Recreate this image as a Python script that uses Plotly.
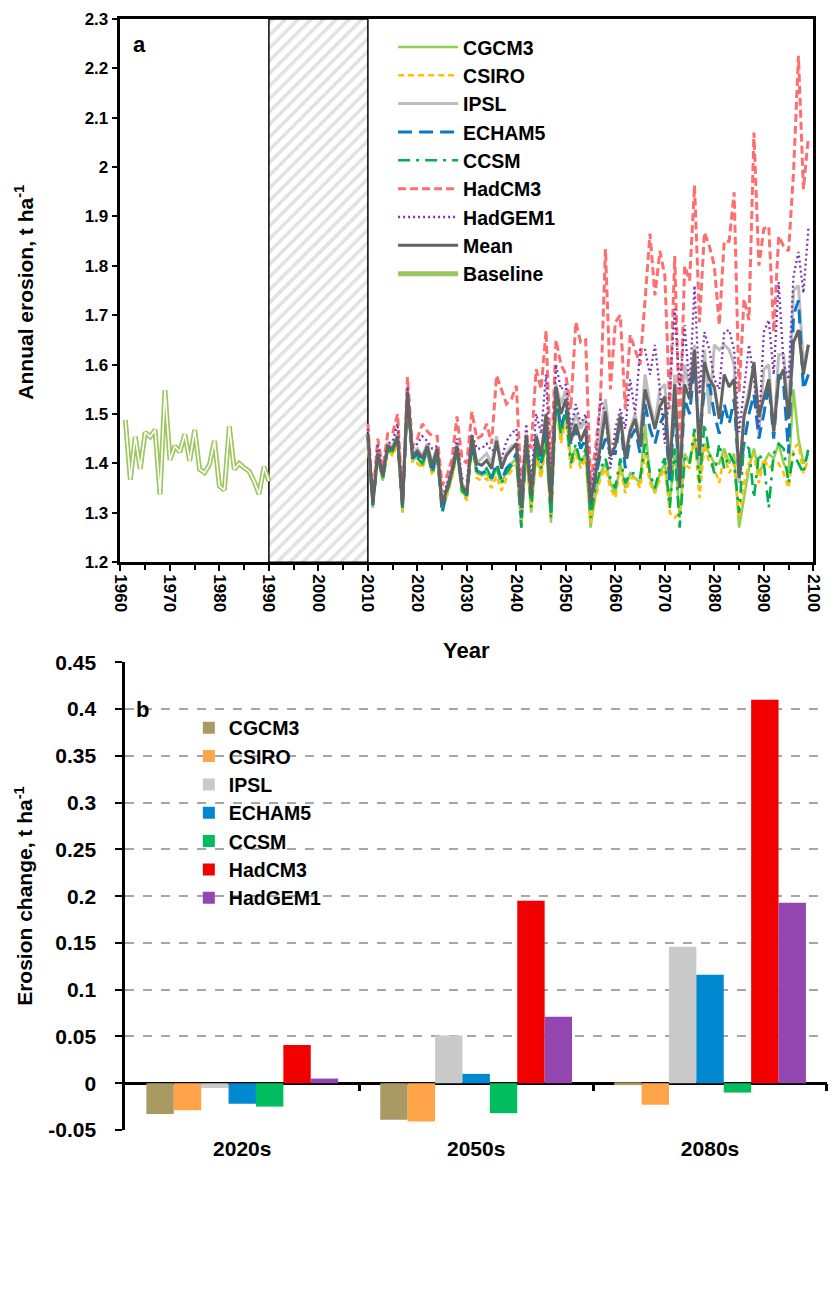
import plotly.graph_objects as go

# ---------------- data: panel a ----------------
BASELINE_YEARS = list(range(1961, 1991))
BASELINE = [1.488, 1.367, 1.454, 1.389, 1.463, 1.454, 1.468, 1.337, 1.548, 1.407,
            1.435, 1.423, 1.459, 1.405, 1.468, 1.388, 1.381, 1.398, 1.446, 1.354,
            1.346, 1.475, 1.388, 1.400, 1.391, 1.384, 1.364, 1.338, 1.393, 1.364]

FUTURE_YEARS = list(range(2010, 2100))

CGCM3 = [1.44, 1.31, 1.41, 1.365, 1.425, 1.42, 1.445, 1.30, 1.53, 1.405,
         1.415, 1.395, 1.425, 1.38, 1.42, 1.31, 1.34, 1.375, 1.425, 1.345,
         1.33, 1.44, 1.38, 1.375, 1.38, 1.365, 1.39, 1.36, 1.385, 1.40,
         1.41, 1.27, 1.43, 1.30, 1.42, 1.38, 1.45, 1.28, 1.53, 1.45,
         1.50, 1.41, 1.43, 1.40, 1.42, 1.27, 1.34, 1.38, 1.40, 1.36,
         1.34, 1.40, 1.35, 1.38, 1.37, 1.36, 1.48, 1.37, 1.34, 1.38,
         1.40, 1.32, 1.43, 1.29, 1.42, 1.40, 1.45, 1.38, 1.44, 1.42,
         1.40, 1.40, 1.43, 1.40, 1.42, 1.27, 1.33, 1.39, 1.43, 1.38,
         1.40, 1.42, 1.41, 1.44, 1.40, 1.38, 1.55, 1.45, 1.40, 1.42]

CSIRO = [1.445, 1.315, 1.415, 1.37, 1.43, 1.415, 1.44, 1.305, 1.535, 1.40,
         1.40, 1.39, 1.42, 1.375, 1.41, 1.305, 1.335, 1.37, 1.42, 1.34,
         1.325, 1.435, 1.37, 1.365, 1.37, 1.35, 1.375, 1.345, 1.37, 1.385,
         1.40, 1.28, 1.42, 1.31, 1.41, 1.37, 1.44, 1.29, 1.52, 1.44,
         1.49, 1.39, 1.42, 1.39, 1.41, 1.28, 1.33, 1.37, 1.39, 1.35,
         1.33, 1.39, 1.34, 1.37, 1.37, 1.35, 1.42, 1.36, 1.34, 1.37,
         1.39, 1.30, 1.29, 1.30, 1.40, 1.39, 1.46, 1.33, 1.44, 1.40,
         1.39, 1.36, 1.42, 1.38, 1.40, 1.29, 1.36, 1.40, 1.42, 1.36,
         1.41, 1.39, 1.40, 1.40, 1.38, 1.35, 1.43, 1.44, 1.38, 1.41]

IPSL = [1.46, 1.32, 1.425, 1.38, 1.44, 1.435, 1.46, 1.315, 1.55, 1.42,
        1.43, 1.415, 1.44, 1.40, 1.435, 1.32, 1.355, 1.39, 1.44, 1.36,
        1.345, 1.455, 1.40, 1.41, 1.42, 1.40, 1.455, 1.395, 1.42, 1.435,
        1.44, 1.31, 1.46, 1.34, 1.46, 1.42, 1.50, 1.32, 1.56, 1.52,
        1.55, 1.46, 1.50, 1.47, 1.49, 1.33, 1.40, 1.46, 1.53, 1.44,
        1.44, 1.50, 1.42, 1.47, 1.50, 1.45, 1.58, 1.52, 1.48, 1.55,
        1.56, 1.38, 1.58, 1.37, 1.60, 1.55, 1.64, 1.40, 1.63, 1.50,
        1.64, 1.63, 1.64, 1.63, 1.60, 1.36, 1.50, 1.55, 1.60, 1.46,
        1.59, 1.60, 1.46, 1.62, 1.62, 1.50, 1.75, 1.76, 1.60, 1.64]

ECHAM5 = [1.455, 1.315, 1.42, 1.37, 1.43, 1.425, 1.45, 1.31, 1.54, 1.41,
          1.42, 1.40, 1.43, 1.38, 1.425, 1.30, 1.345, 1.38, 1.43, 1.35,
          1.335, 1.44, 1.385, 1.38, 1.385, 1.37, 1.40, 1.365, 1.39, 1.40,
          1.42, 1.29, 1.44, 1.33, 1.44, 1.40, 1.47, 1.30, 1.54, 1.47,
          1.51, 1.44, 1.47, 1.43, 1.45, 1.31, 1.37, 1.42, 1.45, 1.42,
          1.42, 1.49, 1.39, 1.45, 1.47, 1.42, 1.52, 1.47, 1.44, 1.48,
          1.50, 1.36, 1.52, 1.35, 1.53, 1.50, 1.60, 1.45, 1.55, 1.56,
          1.50, 1.46, 1.52, 1.48, 1.53, 1.37, 1.44, 1.50, 1.54, 1.45,
          1.50, 1.56, 1.45, 1.58, 1.56, 1.42, 1.70, 1.73, 1.55, 1.58]

CCSM = [1.45, 1.32, 1.415, 1.37, 1.425, 1.425, 1.45, 1.31, 1.54, 1.41,
        1.41, 1.40, 1.43, 1.385, 1.42, 1.31, 1.345, 1.38, 1.43, 1.345,
        1.335, 1.445, 1.385, 1.38, 1.39, 1.37, 1.395, 1.36, 1.38, 1.395,
        1.41, 1.27, 1.44, 1.31, 1.43, 1.39, 1.45, 1.29, 1.53, 1.46,
        1.50, 1.40, 1.44, 1.40, 1.43, 1.29, 1.35, 1.39, 1.41, 1.37,
        1.35, 1.41, 1.36, 1.38, 1.38, 1.37, 1.44, 1.38, 1.35, 1.39,
        1.41, 1.31, 1.43, 1.27, 1.41, 1.40, 1.47, 1.36, 1.48, 1.42,
        1.38, 1.44, 1.39, 1.42, 1.40, 1.30, 1.44, 1.43, 1.33, 1.42,
        1.40, 1.31, 1.42, 1.44, 1.43, 1.36, 1.42, 1.40, 1.38, 1.43]

HADCM3 = [1.48, 1.33, 1.45, 1.39, 1.46, 1.46, 1.50, 1.32, 1.575, 1.435,
          1.45, 1.48, 1.465, 1.455, 1.455, 1.355, 1.375, 1.41, 1.495, 1.41,
          1.40, 1.505, 1.45, 1.456, 1.48, 1.44, 1.578, 1.55, 1.52, 1.53,
          1.557, 1.348, 1.456, 1.43, 1.591, 1.55, 1.669, 1.38, 1.65, 1.60,
          1.58, 1.51, 1.686, 1.645, 1.65, 1.36, 1.43, 1.53, 1.834, 1.55,
          1.686, 1.70, 1.51, 1.66, 1.63, 1.60, 1.73, 1.865, 1.74, 1.83,
          1.78, 1.51, 1.82, 1.45, 1.80, 1.77, 1.963, 1.686, 1.868, 1.84,
          1.80, 1.68, 1.85, 1.85, 1.949, 1.544, 1.733, 1.69, 2.07, 1.80,
          1.875, 1.88, 1.666, 1.86, 1.84, 1.83, 1.989, 2.225, 1.955, 2.06]

HADGEM1 = [1.47, 1.33, 1.44, 1.38, 1.44, 1.445, 1.48, 1.32, 1.555, 1.43,
           1.44, 1.455, 1.445, 1.43, 1.435, 1.33, 1.36, 1.39, 1.45, 1.37,
           1.365, 1.46, 1.43, 1.43, 1.44, 1.425, 1.43, 1.41, 1.445, 1.46,
           1.47, 1.33, 1.48, 1.36, 1.50, 1.46, 1.58, 1.34, 1.60, 1.55,
           1.56, 1.47, 1.52, 1.48, 1.50, 1.34, 1.40, 1.53, 1.50, 1.39,
           1.47, 1.51, 1.47, 1.57, 1.50, 1.63, 1.63, 1.58, 1.64, 1.55,
           1.44, 1.55, 1.713, 1.55, 1.68, 1.55, 1.76, 1.54, 1.666, 1.63,
           1.57, 1.55, 1.666, 1.67, 1.63, 1.463, 1.55, 1.64, 1.57, 1.47,
           1.666, 1.69, 1.58, 1.767, 1.60, 1.57, 1.78, 1.828, 1.745, 1.875]

MEAN = [1.46, 1.32, 1.42, 1.375, 1.435, 1.43, 1.455, 1.315, 1.545, 1.415,
        1.425, 1.41, 1.435, 1.395, 1.43, 1.315, 1.35, 1.385, 1.435, 1.355,
        1.34, 1.455, 1.40, 1.396, 1.406, 1.389, 1.446, 1.389, 1.416, 1.429,
        1.44, 1.31, 1.455, 1.335, 1.455, 1.415, 1.50, 1.32, 1.555, 1.50,
        1.53, 1.445, 1.48, 1.445, 1.47, 1.32, 1.38, 1.435, 1.505, 1.415,
        1.435, 1.495, 1.41, 1.465, 1.49, 1.435, 1.55, 1.51, 1.47, 1.515,
        1.535, 1.38, 1.56, 1.355, 1.56, 1.53, 1.63, 1.415, 1.605, 1.57,
        1.555, 1.49, 1.58, 1.555, 1.57, 1.37, 1.495, 1.535, 1.605, 1.495,
        1.535, 1.57, 1.465, 1.57, 1.59, 1.49, 1.645, 1.67, 1.58, 1.64]

GAP_PERIOD = [1990, 2010]          # hatched, no-data period
Y_RANGE_A = [1.2, 2.3]
Y_TICKS_A = [1.2, 1.3, 1.4, 1.5, 1.6, 1.7, 1.8, 1.9, 2.0, 2.1, 2.2, 2.3]
Y_TICKTEXT_A = ["1.2", "1.3", "1.4", "1.5", "1.6", "1.7", "1.8", "1.9", "2", "2.1", "2.2", "2.3"]

# ---------------- data: panel b ----------------
PERIODS = ["2020s", "2050s", "2080s"]
BAR_MODELS = ["CGCM3", "CSIRO", "IPSL", "ECHAM5", "CCSM", "HadCM3", "HadGEM1"]
CHANGE_CGCM3 = [-0.033, -0.039, -0.002]
CHANGE_CSIRO = [-0.029, -0.041, -0.023]
CHANGE_IPSL = [-0.005, 0.051, 0.146]
CHANGE_ECHAM5 = [-0.022, 0.010, 0.116]
CHANGE_CCSM = [-0.025, -0.032, -0.010]
CHANGE_HADCM3 = [0.041, 0.195, 0.410]
CHANGE_HADGEM1 = [0.005, 0.071, 0.193]
Y_RANGE_B = [-0.05, 0.45]
Y_TICKS_B = [-0.05, 0, 0.05, 0.1, 0.15, 0.2, 0.25, 0.3, 0.35, 0.4, 0.45]
Y_TICKTEXT_B = ["-0.05", "0", "0.05", "0.1", "0.15", "0.2", "0.25", "0.3", "0.35", "0.4", "0.45"]

# ---------------- styling ----------------
W, H = 836, 1308
FONT = "Liberation Sans, Arial, sans-serif"

A_TOP, A_BOTTOM = 7, 560          # panel a plot area (px from top)
B_TOP, B_BOTTOM = 662, 1138       # panel b plot area (px from top)


def px_x(p):
    return p / W


def px_y(p):
    return 1 - p / H


def bfont(size):
    return dict(family=FONT, size=size, color="black", weight="bold")


fig = go.Figure()

# hatched gap period
fig.add_trace(go.Scatter(
    x=[GAP_PERIOD[0], GAP_PERIOD[1], GAP_PERIOD[1], GAP_PERIOD[0], GAP_PERIOD[0]],
    y=[Y_RANGE_A[0], Y_RANGE_A[0], Y_RANGE_A[1], Y_RANGE_A[1], Y_RANGE_A[0]],
    fill="toself", mode="lines",
    line=dict(color="black", width=1.5),
    fillcolor="white",
    fillpattern=dict(shape="/", fgcolor="#c4c4c4", bgcolor="white", size=9, solidity=0.4),
    showlegend=False, hoverinfo="skip", xaxis="x", yaxis="y"))

line_specs = [
    ("CGCM3", CGCM3, "#92D050", "solid", 2.5),
    ("CSIRO", CSIRO, "#FFC000", "6px,4px", 2.6),
    ("IPSL", IPSL, "#BDBDBD", "solid", 3),
    ("ECHAM5", ECHAM5, "#0A78C2", "14px,7px", 3),
    ("CCSM", CCSM, "#00B050", "12px,6px,3px,6px", 2.6),
    ("HadCM3", HADCM3, "#FF6E6E", "8px,4px", 3),
    ("HadGEM1", HADGEM1, "#7B35B0", "2px,3px", 2.3),
    ("Mean", MEAN, "#636363", "solid", 3),
]
for name, vals, color, dash, width in line_specs:
    fig.add_trace(go.Scatter(
        x=FUTURE_YEARS, y=vals, mode="lines", name=name,
        line=dict(color=color, dash=dash, width=width),
        legend="legend", legendgroup=name, xaxis="x", yaxis="y"))

# baseline as a double line
fig.add_trace(go.Scatter(
    x=BASELINE_YEARS, y=BASELINE, mode="lines", name="Baseline",
    line=dict(color="#9DC65E", width=5), legend="legend", legendgroup="Baseline",
    xaxis="x", yaxis="y"))
fig.add_trace(go.Scatter(
    x=BASELINE_YEARS, y=BASELINE, mode="lines", name="Baseline",
    line=dict(color="white", width=1.6), showlegend=False, legendgroup="Baseline",
    xaxis="x", yaxis="y"))

# bars
bar_values = [CHANGE_CGCM3, CHANGE_CSIRO, CHANGE_IPSL, CHANGE_ECHAM5,
              CHANGE_CCSM, CHANGE_HADCM3, CHANGE_HADGEM1]
bar_colors = ["#A89A62", "#FFA449", "#CACACA", "#0088D1", "#00BE5E", "#F20000", "#9346B0"]
for name, vals, color in zip(BAR_MODELS, bar_values, bar_colors):
    fig.add_trace(go.Bar(
        x=PERIODS, y=vals, name=name, marker=dict(color=color, line=dict(width=0)),
        legend="legend2", legendgroup="b_" + name, xaxis="x2", yaxis="y2"))

zero_frac = (0 - Y_RANGE_B[0]) / (Y_RANGE_B[1] - Y_RANGE_B[0])
zero_px = B_BOTTOM - zero_frac * (B_BOTTOM - B_TOP)

fig.update_layout(
    width=W, height=H,
    margin=dict(l=0, r=0, t=0, b=0),
    paper_bgcolor="white", plot_bgcolor="white",
    font=dict(family=FONT, color="black"),
    barmode="group", bargap=0.18, bargroupgap=0,
    xaxis=dict(
        domain=[px_x(113), px_x(822)], range=[1960, 2100],
        tickmode="linear", tick0=1960, dtick=10, tickangle=90,
        ticks="outside", ticklen=6, tickwidth=2, tickcolor="black",
        minor=dict(dtick=5, tick0=1960, ticks="outside", ticklen=5, tickwidth=2, tickcolor="black"),
        showline=True, linecolor="black", linewidth=2.5, mirror=True,
        showgrid=False, zeroline=False, tickfont=bfont(17), anchor="y"),
    yaxis=dict(
        domain=[px_y(A_BOTTOM), px_y(A_TOP)], range=Y_RANGE_A,
        tickvals=Y_TICKS_A, ticktext=Y_TICKTEXT_A,
        ticks="outside", ticklen=6, tickwidth=2, tickcolor="black",
        showline=True, linecolor="black", linewidth=2.5, mirror=True,
        showgrid=False, zeroline=False, tickfont=bfont(17), anchor="x"),
    xaxis2=dict(
        domain=[px_x(118), 1.0], type="category", categoryarray=PERIODS,
        showline=False, ticks="", showgrid=False, tickfont=bfont(21),
        ticklabelstandoff=4, anchor="y2"),
    yaxis2=dict(
        domain=[px_y(B_BOTTOM), px_y(B_TOP)], range=Y_RANGE_B,
        tickvals=Y_TICKS_B, ticktext=Y_TICKTEXT_B,
        ticks="outside", ticklen=7, tickwidth=2, tickcolor="black",
        ticklabelstandoff=15,
        showline=True, linecolor="black", linewidth=3,
        showgrid=True, gridcolor="#A6A6A6", griddash="dash", gridwidth=1.5,
        zeroline=True, zerolinecolor="black", zerolinewidth=2.5,
        tickfont=bfont(21), anchor="x2"),
    xaxis3=dict(
        overlaying="x2", range=[-0.5, 2.5], tickvals=[0.5, 1.5, 2.5],
        ticks="outside", ticklen=7, tickwidth=2.5, tickcolor="black",
        showticklabels=False, showline=False, showgrid=False, zeroline=False,
        anchor="free", position=px_y(zero_px)),
    legend=dict(
        x=px_x(392), y=px_y(16), xanchor="left", yanchor="top",
        font=bfont(19.5), bgcolor="rgba(0,0,0,0)", tracegroupgap=0,
        itemwidth=60, traceorder="normal"),
    legend2=dict(
        x=px_x(183), y=px_y(709), xanchor="left", yanchor="top",
        font=bfont(19.5), bgcolor="rgba(0,0,0,0)", tracegroupgap=0,
        traceorder="normal"),
    annotations=[
        dict(text="a", x=px_x(133), y=px_y(33), xref="paper", yref="paper",
             xanchor="center", yanchor="middle", showarrow=False, font=bfont(22)),
        dict(text="b", x=px_x(136), y=px_y(710), xref="paper", yref="paper",
             xanchor="center", yanchor="middle", showarrow=False, font=bfont(22)),
        dict(text="Year", x=px_x(467), y=px_y(650), xref="paper", yref="paper",
             xanchor="center", yanchor="middle", showarrow=False, font=bfont(22)),
        dict(text="Annual erosion, t ha<sup>-1</sup>", x=px_x(14), y=px_y(285),
             xref="paper", yref="paper", xanchor="center", yanchor="middle",
             textangle=-90, showarrow=False, font=bfont(21)),
        dict(text="Erosion change, t ha<sup>-1</sup>", x=px_x(14), y=px_y(900),
             xref="paper", yref="paper", xanchor="center", yanchor="middle",
             textangle=-90, showarrow=False, font=bfont(21)),
    ],
)

# invisible helper trace so the boundary-tick axis is rendered
fig.add_trace(go.Scatter(x=[0], y=[0], xaxis="x3", yaxis="y2", mode="markers",
                         marker=dict(opacity=0), showlegend=False, hoverinfo="skip"))

fig.write_html("out.html")
